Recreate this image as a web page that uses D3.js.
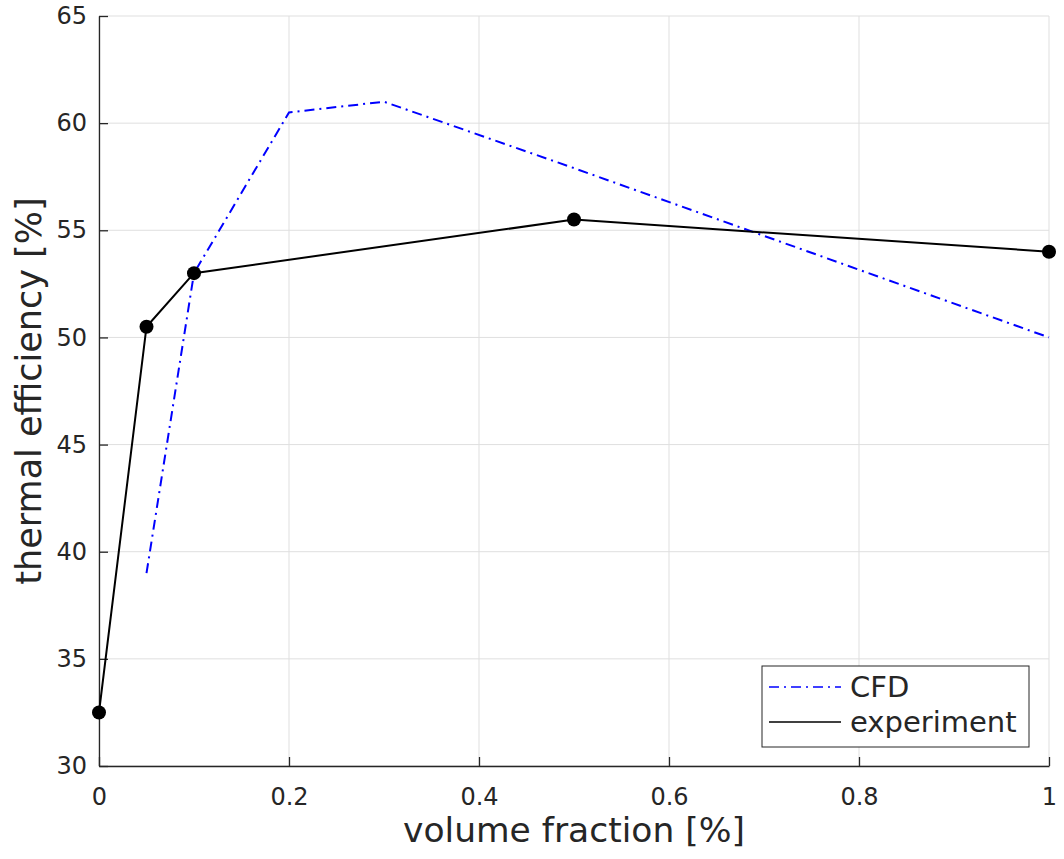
<!DOCTYPE html>
<html>
<head>
<meta charset="utf-8">
<script src="https://cdn.jsdelivr.net/npm/d3@7"></script>
<style>
  body { margin: 0; background: #fff; }
  text { font-family: "DejaVu Sans", sans-serif; fill: #262626; }
</style>
</head>
<body>
<div id="chart"></div>
<script>
// data
const cfdX = [0.05, 0.1, 0.2, 0.3, 0.5, 1];
const cfdY = [39, 53, 60.5, 61, 57.9, 50];
const expX = [0, 0.05, 0.1, 0.5, 1];
const expY = [32.5, 50.5, 53, 55.5, 54];
const xTicks = [0, 0.2, 0.4, 0.6, 0.8, 1];
const yTicks = [30, 35, 40, 45, 50, 55, 60, 65];

const W = 1064, H = 859;
const margins = { top: 16, right: 15, bottom: 93, left: 99 };
const width = W - margins.left - margins.right;
const height = H - margins.top - margins.bottom;

const svg = d3.select("#chart").append("svg")
    .attr("width", W)
    .attr("height", H);

const g = svg.append("g")
    .attr("transform", `translate(${margins.left}, ${margins.top})`);

const xScale = d3.scaleLinear().domain([0, 1]).range([0, width]);
const yScale = d3.scaleLinear().domain([30, 65]).range([height, 0]);

// grid
g.append("g").selectAll("line.vgrid")
    .data(xTicks)
    .join("line")
    .attr("x1", d => xScale(d)).attr("x2", d => xScale(d))
    .attr("y1", 0).attr("y2", height)
    .attr("stroke", "#dfdfdf").attr("stroke-width", 1);

g.append("g").selectAll("line.hgrid")
    .data(yTicks)
    .join("line")
    .attr("x1", 0).attr("x2", width)
    .attr("y1", d => yScale(d)).attr("y2", d => yScale(d))
    .attr("stroke", "#dfdfdf").attr("stroke-width", 1);

// axes, ticks pointing inward
const xAxis = d3.axisBottom(xScale).tickValues(xTicks).tickFormat(d3.format("")).tickSizeInner(-9).tickSizeOuter(0).tickPadding(22);
const yAxis = d3.axisLeft(yScale).tickValues(yTicks).tickSizeInner(-9).tickSizeOuter(0).tickPadding(12);

const gx = g.append("g")
    .attr("transform", `translate(0, ${height})`)
    .call(xAxis);
const gy = g.append("g").call(yAxis);

[gx, gy].forEach(a => {
    a.attr("font-size", null).attr("font-family", null);
    a.select(".domain").attr("stroke", "#262626").attr("stroke-width", 1.3);
    a.selectAll(".tick line").attr("stroke", "#262626").attr("stroke-width", 1.3);
    a.selectAll(".tick text").style("font-size", "24px").attr("fill", "#262626");
});

// series
const line = d3.line().x(d => xScale(d[0])).y(d => yScale(d[1]));
const cfd = cfdX.map((x, i) => [x, cfdY[i]]);
const exp = expX.map((x, i) => [x, expY[i]]);

g.append("path")
    .datum(cfd)
    .attr("d", line)
    .attr("fill", "none")
    .attr("stroke", "#0000ff")
    .attr("stroke-width", 2)
    .attr("stroke-dasharray", "10,5,2,5");

g.append("path")
    .datum(exp)
    .attr("d", line)
    .attr("fill", "none")
    .attr("stroke", "#000")
    .attr("stroke-width", 2);

g.selectAll("circle.pt")
    .data(exp)
    .join("circle")
    .attr("class", "pt")
    .attr("cx", d => xScale(d[0]))
    .attr("cy", d => yScale(d[1]))
    .attr("r", 7)
    .attr("fill", "#000");

// axis labels
svg.append("text")
    .attr("x", margins.left + width / 2)
    .attr("y", 842)
    .attr("text-anchor", "middle")
    .style("font-size", "34.5px")
    .text("volume fraction [%]");

svg.append("text")
    .attr("transform", `translate(41, ${margins.top + height / 2}) rotate(-90)`)
    .attr("text-anchor", "middle")
    .style("font-size", "35px")
    .text("thermal efficiency [%]");

// legend
const legend = svg.append("g").attr("transform", "translate(762, 666)");
legend.append("rect")
    .attr("width", 267).attr("height", 81)
    .attr("fill", "#fff").attr("stroke", "#262626").attr("stroke-width", 1);

const legendItems = [
    { name: "CFD", color: "#0000ff", dash: "10,5,2,5" },
    { name: "experiment", color: "#000", dash: null }
];
legendItems.forEach((it, i) => {
    const yy = 21 + i * 35;
    legend.append("line")
        .attr("x1", 7).attr("x2", 79)
        .attr("y1", yy).attr("y2", yy)
        .attr("stroke", it.color).attr("stroke-width", 1.5)
        .attr("stroke-dasharray", it.dash);
    legend.append("text")
        .attr("x", 88).attr("y", yy + 10)
        .style("font-size", "29px")
        .text(it.name);
});
</script>
</body>
</html>
